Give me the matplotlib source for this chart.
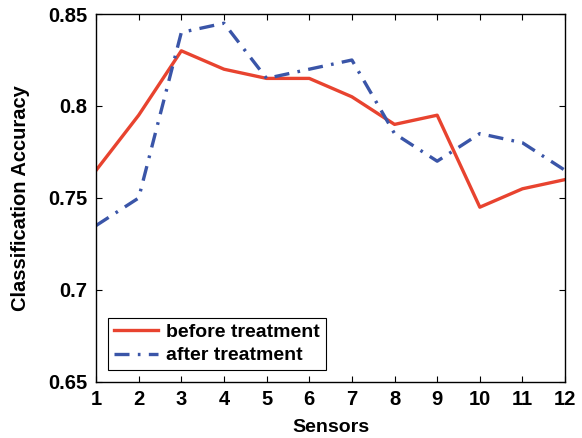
import numpy as np
import matplotlib.pyplot as plt

plt.rcParams['font.family'] = ['Liberation Sans', 'DejaVu Sans']
plt.rcParams['font.weight'] = 'bold'

sensors = np.arange(1, 13)
before = [0.765, 0.795, 0.830, 0.820, 0.815, 0.815, 0.805, 0.790, 0.795, 0.745, 0.755, 0.760]
after = [0.735, 0.750, 0.840, 0.845, 0.815, 0.820, 0.825, 0.785, 0.770, 0.785, 0.780, 0.765]
yticks = [0.65, 0.7, 0.75, 0.8, 0.85]
ytick_labels = ['0.65', '0.7', '0.75', '0.8', '0.85']

fig = plt.figure(figsize=(5.82, 4.38), dpi=100)
ax = fig.add_axes([0.165, 0.128, 0.806, 0.840])

ax.plot(sensors, before, color='#e8432f', lw=2.4, label='before treatment')
ax.plot(sensors, after, color='#3a55a8', lw=2.4, linestyle=(0, (4.5, 2.5, 0.8, 2.5)),
        label='after treatment')

ax.set_xlim(1, 12)
ax.set_ylim(0.65, 0.85)
ax.set_xticks(sensors)
ax.set_yticks(yticks)
ax.set_yticklabels(ytick_labels)
ax.tick_params(direction='in', top=True, right=True, labelsize=14.5, length=4, width=0.8, pad=6)
for s in ax.spines.values():
    s.set_linewidth(1.0)

ax.set_xlabel('Sensors', fontsize=14, fontweight='bold', labelpad=7)
ax.set_ylabel('Classification Accuracy', fontsize=14.5, fontweight='bold', labelpad=13)

leg = ax.legend(loc='lower left', fontsize=14, fancybox=False, edgecolor='black',
                framealpha=1, handlelength=2.3, handletextpad=0.4, borderpad=0.3,
                labelspacing=0.3, borderaxespad=0.6)
leg.get_frame().set_linewidth(0.8)

fig.savefig('out.png', dpi=100)
